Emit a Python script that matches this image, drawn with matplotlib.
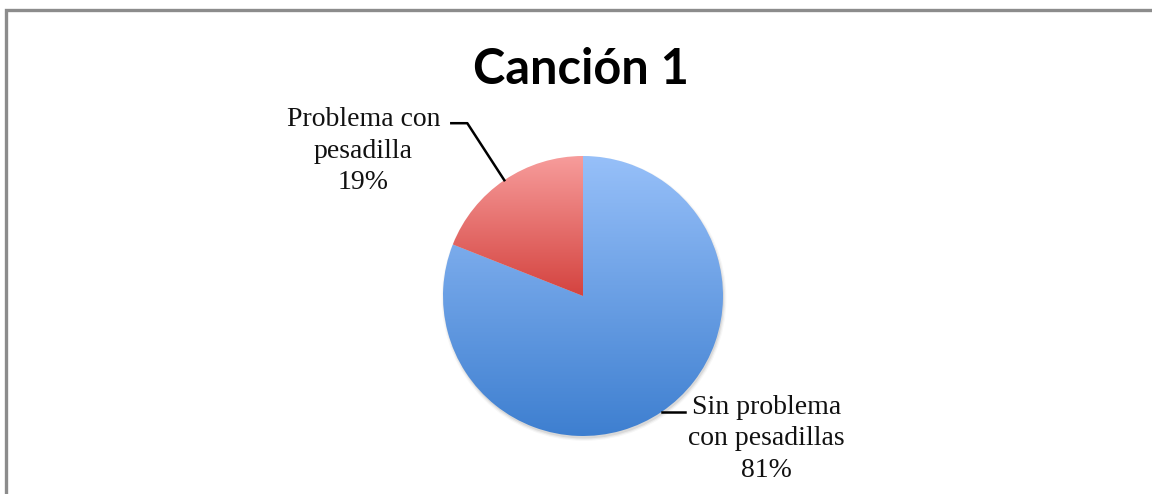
import numpy as np
import matplotlib.pyplot as plt
from matplotlib.colors import LinearSegmentedColormap
from matplotlib.patches import Circle

# Datos del grafico
title = "Canción 1"
labels = ["Sin problema\ncon pesadillas", "Problema con\npesadilla"]
values = [81, 19]
top_colors = ["#97C0F9", "#F79C9B"]
bottom_colors = ["#3E7FD0", "#D4433F"]

W, H = 1152, 494
fig = plt.figure(figsize=(W / 100, H / 100), dpi=100)
ax = fig.add_axes([0, 0, 1, 1])

# marco gris (solo se ven el borde izquierdo y el superior)
ax.plot([6, 6, W], [0, H - 10, H - 10], color="#8c8c8c", lw=2.4,
        solid_joinstyle="miter", zorder=1)

cx, cy, r = 583, H - 296, 140

# sombra suave
for i, a in enumerate([0.07, 0.05, 0.03]):
    ax.add_patch(Circle((cx + 1, cy - 2.5), r + i * 1.2, color="black",
                        alpha=a, lw=0, zorder=2))

wedges, _ = ax.pie(values, center=(cx, cy), radius=r, startangle=90,
                   counterclock=False, colors=["none", "none"],
                   wedgeprops=dict(linewidth=0))
ax.set_xlim(0, W)
ax.set_ylim(0, H)
ax.set_aspect("equal")
ax.axis("off")

# degradado vertical por porcion (sobre la caja de cada porcion)
grad = np.linspace(0, 1, 256).reshape(-1, 1)
for w, c0, c1 in zip(wedges, top_colors, bottom_colors):
    verts = w.get_path().vertices
    y0, y1 = verts[:, 1].min(), verts[:, 1].max()
    x0, x1 = verts[:, 0].min(), verts[:, 0].max()
    cmap = LinearSegmentedColormap.from_list("g", [c1, c0])
    im = ax.imshow(grad, cmap=cmap, extent=[x0, x1, y0, y1],
                   origin="lower", aspect="auto", zorder=3)
    im.set_clip_path(w)

# etiquetas con lineas guia
serif = "Liberation Serif"
fs = 20
mids = []
for w in wedges:
    th = np.deg2rad((w.theta1 + w.theta2) / 2)
    mids.append((cx + r * np.cos(th), cy + r * np.sin(th)))

# Sin problema (abajo derecha)
bx, by = mids[0]
ax.plot([bx, bx + 23], [by, by], color="black", lw=1.8, zorder=4)
ax.text(bx + 105, by - 27, labels[0] + "\n" + f"{values[0]}%", ha="center",
        va="center", fontsize=fs, family=serif, linespacing=1.33,
        color="#111111")

# Problema con pesadilla (arriba izquierda)
rx, ry = mids[1]
kx, ky = rx - 37, ry + 57
ax.plot([rx, kx, kx - 16], [ry, ky, ky], color="black", lw=1.8, zorder=4)
ax.text(kx - 104, ky - 28, labels[1] + "\n" + f"{values[1]}%", ha="center",
        va="center", fontsize=fs, family=serif, linespacing=1.33,
        color="#111111")

ax.text(581, H - 70, title, ha="center", va="center", fontsize=35,
        fontweight="bold", family="Lato", color="black")

fig.savefig("out.png", dpi=100)
